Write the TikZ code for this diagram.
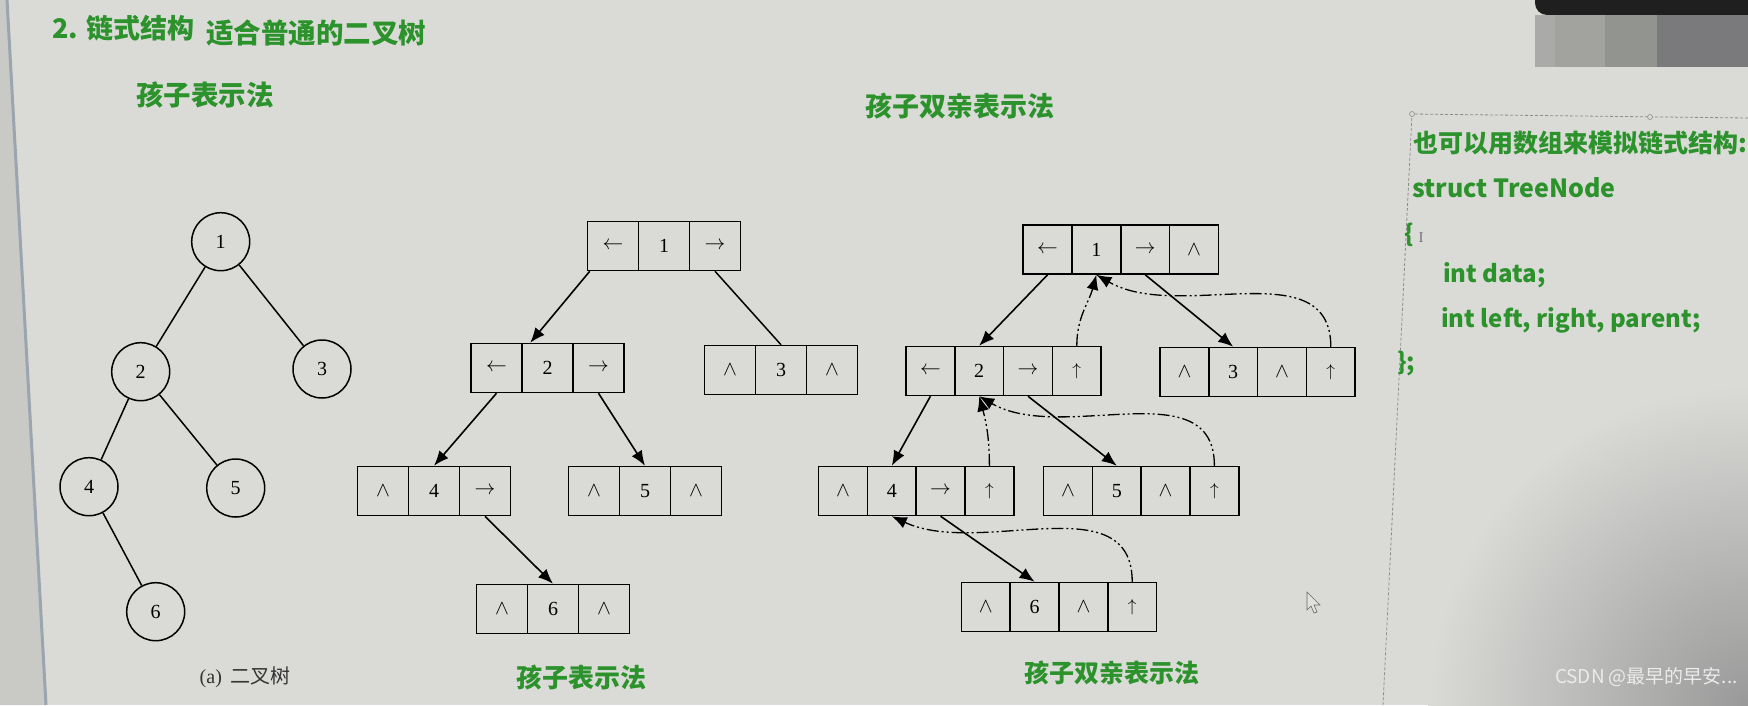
\documentclass[tikz,border=0pt]{standalone}
\usepackage{fontspec}
\usepackage{amsmath}
\usetikzlibrary{arrows.meta,positioning,calc}
\setmainfont{Liberation Serif}
\newfontfamily\cjk{Noto Sans CJK SC}

\definecolor{hdgreen}{RGB}{44,146,44}
\definecolor{paper}{RGB}{218,219,215}
\definecolor{edgeline}{RGB}{155,165,175}
\definecolor{blurA}{RGB}{170,171,168}
\definecolor{blurB}{RGB}{162,163,159}
\definecolor{blurC}{RGB}{146,148,144}
\definecolor{blurD}{RGB}{122,121,123}

% cell contents
\newcommand{\lptr}{$\leftarrow$}
\newcommand{\rptr}{$\rightarrow$}
\newcommand{\uptr}{{\fontsize{16}{16}\selectfont$\uparrow$}}
\newcommand{\nulp}{$\wedge$}

% one linked node: name, cell width, first cell centre, cells
\newcommand{\linkbox}[4]{%
  \foreach \lbl [count=\i] in {#4}
    \node[cell, minimum width=#2pt] (#1-\i) at ($(#3)+({(\i-1)*#2},0)$) {\lbl};
}

\tikzset{
  cell/.style={draw, line width=1.5pt, minimum height=49pt, inner sep=0pt, font=\fontsize{20}{20}\selectfont},
  knot/.style={circle, draw, line width=1.5pt, minimum size=58pt, inner sep=0pt, font=\fontsize{20}{20}\selectfont},
  edge/.style={line width=1.5pt},
  child/.style={line width=1.6pt, -{Latex[length=15pt,width=12pt]}},
  parent/.style={line width=1.3pt, dash pattern=on 12pt off 3pt on 2pt off 3pt on 2pt off 3pt, -{Latex[length=15pt,width=12pt]}},
  greenlbl/.style={inner sep=0pt, text=hdgreen, font=\cjk\bfseries\fontsize{26}{26}\selectfont},
  codeline/.style={anchor=west, inner sep=0pt, text=hdgreen, font=\cjk\bfseries\fontsize{24}{24}\selectfont},
}

\begin{document}
\begin{tikzpicture}[x=1pt,y=1pt]
\useasboundingbox (0,0) rectangle (1748,-705);

% photo background
\fill[paper] (0,0) rectangle (1748,-705);
\begin{scope}
\clip (0,0) rectangle (1748,-705);
\shade[inner color=black!40, outer color=paper] (1748,-705) circle (320);
\end{scope}
\fill[paper!92!black] (0,0) -- (7,0) -- (46,-705) -- (0,-705) -- cycle;
\draw[line width=3pt, edgeline] (7,0) -- (46,-705);

% blurred corner
\fill[black!88, rounded corners=12pt] (1535,-15) rectangle (1770,14);
\fill[blurA] (1535,-15) rectangle (1555,-67);
\fill[blurB] (1555,-15) rectangle (1605,-67);
\fill[blurC] (1605,-15) rectangle (1657,-67);
\fill[blurD] (1657,-15) rectangle (1748,-67);

% text frame on the right
\draw[black!45, densely dashed, line width=0.8pt] (1748,-118) -- (1412,-114) -- (1383,-705);
\draw[black!45, fill=paper, line width=0.6pt] (1412,-114) circle (2.5);
\draw[black!45, fill=paper, line width=0.6pt] (1650,-117) circle (2.5);

% headings
\node[greenlbl, anchor=west, font=\cjk\bfseries\fontsize{27}{27}\selectfont] (head) at (52,-28) {2. 链式结构};
\node[greenlbl, anchor=west, font=\cjk\bfseries\fontsize{27.5}{27.5}\selectfont] (headnote) at (206,-33) {适合普通的二叉树};
\node[greenlbl, font=\cjk\bfseries\fontsize{27.5}{27.5}\selectfont] (capA) at (205,-95) {孩子表示法};
\node[greenlbl, font=\cjk\bfseries\fontsize{27}{27}\selectfont] (capB) at (960,-106) {孩子双亲表示法};
\node[greenlbl] (capC) at (581,-677) {孩子表示法};
\node[greenlbl, font=\cjk\bfseries\fontsize{25}{25}\selectfont] (capD) at (1112,-673) {孩子双亲表示法};
\node[inner sep=0pt, text=black!80, font=\fontsize{20}{20}\selectfont] (capT) at (245,-677) {(a)\, {\cjk 二叉树}};

% binary tree
\node[knot] (n1) at (220.7,-241.7) {1};
\node[knot] (n2) at (140.7,-371.7) {2};
\node[knot] (n3) at (322,-369) {3};
\node[knot] (n4) at (89,-486.7) {4};
\node[knot] (n5) at (235.7,-488) {5};
\node[knot] (n6) at (155.7,-611.7) {6};
\draw[edge] (n1) -- (n2);
\draw[edge] (n1) -- (n3);
\draw[edge] (n2) -- (n4);
\draw[edge] (n2) -- (n5);
\draw[edge] (n4) -- (n6);

% child links
\linkbox{L1}{51}{613,-246}{\lptr,1,\rptr}
\linkbox{L2}{51}{496.5,-368}{\lptr,2,\rptr}
\linkbox{L3}{51}{730,-370}{\nulp,3,\nulp}
\linkbox{L4}{51}{383,-491}{\nulp,4,\rptr}
\linkbox{L5}{51}{594,-491}{\nulp,5,\nulp}
\linkbox{L6}{51}{502,-609}{\nulp,6,\nulp}
\draw[child] ([xshift=3pt]L1-1.south west) -- ([xshift=9pt]L2-2.north west);
\draw[edge] (L1-3.south) -- (L3-2.north);
\draw[child] (L2-1.south) -- (L4-2.north);
\draw[child] (L2-3.south) -- (L5-2.north);
\draw[child] (L4-3.south) -- (L6-2.north);

% child and parent links
\linkbox{R1}{48.8}{1047.6,-249.5}{\lptr,1,\rptr,\nulp}
\linkbox{R2}{48.8}{930.4,-371}{\lptr,2,\rptr,\uptr}
\linkbox{R3}{48.8}{1184.4,-372}{\nulp,3,\nulp,\uptr}
\linkbox{R4}{48.8}{843,-491}{\nulp,4,\rptr,\uptr}
\linkbox{R5}{48.8}{1068,-491}{\nulp,5,\nulp,\uptr}
\linkbox{R6}{48.8}{985.8,-607}{\nulp,6,\nulp,\uptr}
\draw[child] (R1-1.south) -- (R2-2.north);
\draw[child] (R1-3.south) -- (R3-2.north);
\draw[child] (R2-1.south) -- (R4-2.north);
\draw[child] (R2-3.south) -- (R5-2.north);
\draw[child] (R4-3.south) -- (R6-2.north);
\draw[parent] (R2-4.north) to[out=90,in=-105] (R1-2.south);
\draw[parent] (R3-4.north) to[out=90,in=-30] (R1-2.south);
\draw[parent] (R4-4.north) to[out=90,in=-75] (R2-2.south);
\draw[parent] (R5-4.north) to[out=90,in=-30] (R2-2.south);
\draw[parent] (R6-4.north) to[out=90,in=-25] (R4-2.south);

% array version
\node[codeline, font=\cjk\bfseries\fontsize{25}{25}\selectfont] (code1) at (1413,-143) {也可以用数组来模拟链式结构:};
\node[codeline, font=\cjk\bfseries\fontsize{25}{25}\selectfont] (code2) at (1412,-188) {struct TreeNode};
\node[codeline] (code3) at (1404,-235) {\{};
\node[inner sep=0pt, text=black!55, font=\fontsize{15}{15}\selectfont] (caret) at (1421,-238) {I};
\node[codeline] (code4) at (1443,-275) {int data;};
\node[codeline] (code5) at (1441,-320) {int left, right, parent;};
\node[codeline] (code6) at (1397,-363) {\};};

% pointer and watermark
\draw[black!60, fill=paper!80!white, line width=0.6pt] (1307,-592) -- (1307,-610) -- (1311,-606) -- (1314,-613) -- (1317,-612) -- (1314,-605) -- (1320,-605) -- cycle;
\node[anchor=east, inner sep=0pt, text=white!92!black, font=\cjk\fontsize{19}{19}\selectfont] (mark) at (1738,-677) {CSDN @最早的早安...};
\end{tikzpicture}
\end{document}
